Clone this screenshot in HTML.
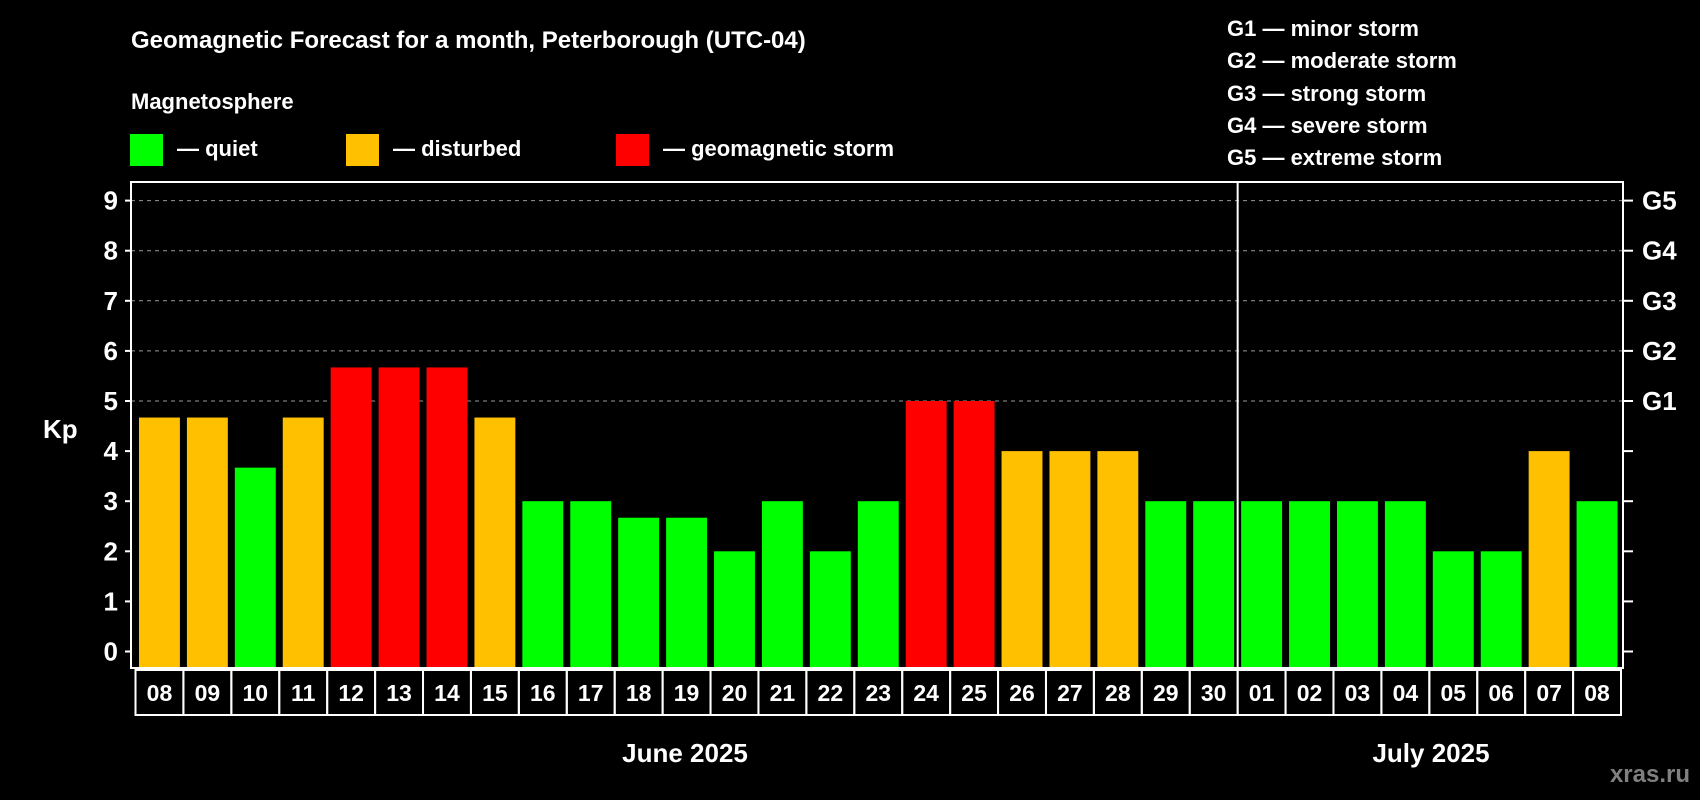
<!DOCTYPE html>
<html><head><meta charset="utf-8"><style>
html,body{margin:0;padding:0;background:#000;}
svg{display:block;font-family:"Liberation Sans",Arial,sans-serif;font-weight:bold;}
</style></head><body>
<svg id="chart" width="1700" height="800" viewBox="0 0 1700 800">
<rect width="1700" height="800" fill="#000"/>
<text x="131" y="48" fill="#fff" font-size="24">Geomagnetic Forecast for a month, Peterborough (UTC-04)</text>
<text x="131" y="109" fill="#fff" font-size="22">Magnetosphere</text>
<g>
<rect x="130" y="134" width="33" height="32" fill="#00ff00"/>
<text x="177" y="156" fill="#fff" font-size="22">— quiet</text></g>
<g>
<rect x="346" y="134" width="33" height="32" fill="#ffc000"/>
<text x="393" y="156" fill="#fff" font-size="22">— disturbed</text></g>
<g>
<rect x="616" y="134" width="33" height="32" fill="#ff0000"/>
<text x="663" y="156" fill="#fff" font-size="22">— geomagnetic storm</text></g>
<g fill="#fff" font-size="22">
<text x="1227" y="36">G1 — minor storm</text>
<text x="1227" y="68">G2 — moderate storm</text>
<text x="1227" y="101">G3 — strong storm</text>
<text x="1227" y="133">G4 — severe storm</text>
<text x="1227" y="165">G5 — extreme storm</text>
</g>
<text x="43" y="438" fill="#fff" font-size="26">Kp</text>
<g id="grid"></g><g id="bars"></g><g id="axes"></g><g id="xlabels"></g>
<text x="685" y="762" fill="#fff" font-size="26" text-anchor="middle">June 2025</text>
<text x="1431" y="762" fill="#fff" font-size="26" text-anchor="middle">July 2025</text>
<text x="1690" y="782" fill="#808080" font-size="24" text-anchor="end">xras.ru</text>
</svg>
<script>
const days = ["08","09","10","11","12","13","14","15","16","17","18","19","20","21","22","23","24","25","26","27","28","29","30","01","02","03","04","05","06","07","08"];
const kp = [4.67,4.67,3.67,4.67,5.67,5.67,5.67,4.67,3,3,2.67,2.67,2,3,2,3,5,5,4,4,4,3,3,3,3,3,3,2,2,4,3];
const yTicks = [0,1,2,3,4,5,6,7,8,9];
const gLabels = ["G1","G2","G3","G4","G5"];
const gLevels = [5,6,7,8,9];
const NS="http://www.w3.org/2000/svg";
const L=131,R=1623,T=182,B=668,X0=135.5,X1=1621;
const y=v=>651.5-v*50.1;
const pitch=(X1-X0)/days.length;
const x=i=>X0+i*pitch;
function mk(p,tag,a){const e=document.createElementNS(NS,tag);for(const k in a)e.setAttribute(k,a[k]);p.appendChild(e);return e;}
const grid=document.getElementById('grid'),bars=document.getElementById('bars'),axes=document.getElementById('axes'),xl=document.getElementById('xlabels');
yTicks.forEach(t=>{
 if(t>=5){const g=mk(grid,'line',{x1:L,x2:R,y1:y(t),y2:y(t),stroke:'#999','stroke-dasharray':'4,4','stroke-width':1});
 
 }
 mk(axes,'line',{x1:L-6,x2:L,y1:y(t),y2:y(t),stroke:'#fff','stroke-width':2});
 mk(axes,'line',{x1:R,x2:R+10,y1:y(t),y2:y(t),stroke:'#fff','stroke-width':2});
 const tx=mk(axes,'text',{x:L-13,y:y(t)+9,fill:'#fff','font-size':26,'text-anchor':'end'});
 tx.textContent=t;
 
 
});
gLabels.forEach((g,i)=>{
 const tx=mk(axes,'text',{x:R+19,y:y(gLevels[i])+9,fill:'#fff','font-size':26});
 tx.textContent=g;
 
 
});
kp.forEach((v,i)=>{
 const c=v>=5?'#ff0000':(v>=4?'#ffc000':'#00ff00');
 const b=mk(bars,'rect',{x:x(i)+3.5,y:y(v),width:pitch-7,height:y(0)-y(v)+16,fill:c});
 
 
 const cell=mk(xl,'rect',{x:x(i),y:670,width:pitch,height:45,fill:'none',stroke:'#fff','stroke-width':2});
 
 
 const tx=mk(xl,'text',{x:x(i)+pitch/2,y:701,fill:'#fff','font-size':23,'text-anchor':'middle'});
 tx.textContent=days[i];
 
 
});
const box=mk(axes,'rect',{x:L,y:T,width:R-L,height:B-T,fill:'none',stroke:'#fff','stroke-width':2});


const sep=mk(axes,'line',{x1:x(23),x2:x(23),y1:T,y2:B,stroke:'#fff','stroke-width':2});


</script>
</body></html>
